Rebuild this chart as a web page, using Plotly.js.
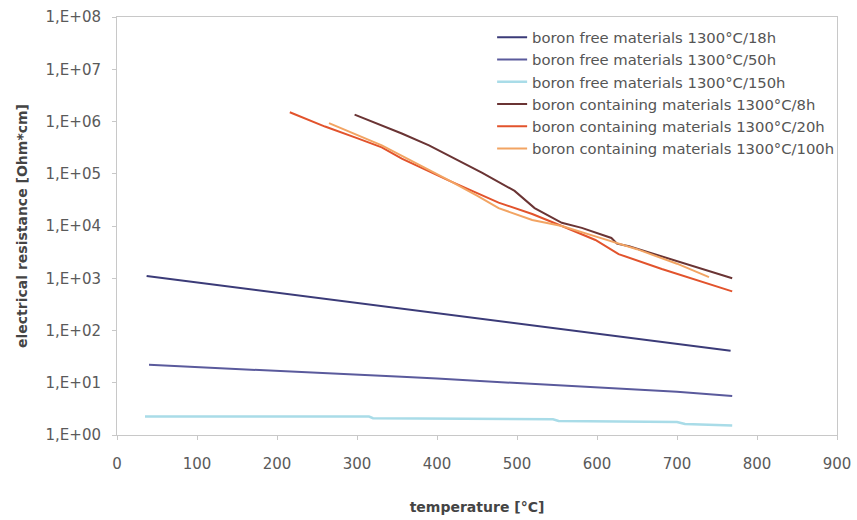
<!DOCTYPE html>
<html>
<head>
<meta charset="utf-8">
<script src="https://cdn.plot.ly/plotly-3.0.1.min.js"></script>
<style>html,body{margin:0;padding:0;background:#fff;}#chart{width:857px;height:520px;}</style>
</head>
<body>
<div id="chart"></div>
<script>
// Series names
const seriesNames = [
  "boron free materials 1300°C/18h",
  "boron free materials 1300°C/50h",
  "boron free materials 1300°C/150h",
  "boron containing materials 1300°C/8h",
  "boron containing materials 1300°C/20h",
  "boron containing materials 1300°C/100h"
];

// boron free 18h
const t18 = [37, 100, 200, 300, 400, 500, 600, 700, 767];
const r18 = [1100, 830, 525, 335, 213, 136, 86, 55, 41];

// boron free 50h
const t50 = [40, 100, 200, 300, 356, 400, 500, 600, 700, 769];
const r50 = [22, 20, 17, 14.5, 13, 12, 9.8, 8.2, 6.7, 5.6];

// boron free 150h
const t150 = [35, 315, 320, 545, 552, 700, 710, 769];
const r150 = [2.25, 2.25, 2.1, 2.0, 1.85, 1.78, 1.62, 1.52];

// boron containing 8h
const t8 = [297, 330, 356, 390, 415, 456, 497, 522, 556, 581, 618, 625, 640, 702, 769];
const r8 = [1.35e6, 8.5e5, 5.9e5, 3.5e5, 2.2e5, 1.05e5, 4.7e4, 2.2e4, 1.15e4, 9.2e3, 5.9e3, 4.6e3, 4.1e3, 2.1e3, 1.0e3];

// boron containing 20h
const t20 = [216, 260, 300, 331, 356, 415, 477, 519, 556, 598, 627, 681, 769];
const r20 = [1.5e6, 8.0e5, 4.8e5, 3.2e5, 1.95e5, 7.4e4, 2.8e4, 1.7e4, 1.0e4, 5.4e3, 2.9e3, 1.5e3, 5.6e2];

// boron containing 100h
const t100 = [265, 300, 331, 370, 415, 450, 477, 519, 556, 600, 650, 700, 740];
const r100 = [9.3e5, 5.5e5, 3.5e5, 1.7e5, 7.5e4, 3.8e4, 2.2e4, 1.3e4, 1.0e4, 6.2e3, 3.6e3, 1.9e3, 1.05e3];

// Axis ticks
const xTickVals = [0, 100, 200, 300, 400, 500, 600, 700, 800, 900];
const yTickVals = [1, 10, 100, 1e3, 1e4, 1e5, 1e6, 1e7, 1e8];
const yTickText = ["1,E+00", "1,E+01", "1,E+02", "1,E+03", "1,E+04", "1,E+05", "1,E+06", "1,E+07", "1,E+08"];

const colors = ["#3b3b78", "#5a5a9c", "#a9dce8", "#6a3434", "#e2532c", "#f2a463"];
const widths = [2, 2, 2.5, 2, 2, 2];

const xs = [t18, t50, t150, t8, t20, t100];
const ys = [r18, r50, r150, r8, r20, r100];

const traces = xs.map((x, i) => ({
  x: x, y: ys[i], type: "scatter", mode: "lines", name: seriesNames[i],
  line: {color: colors[i], width: widths[i]}
}));

const fontFam = "DejaVu Sans, Verdana, sans-serif";
const layout = {
  width: 857, height: 520,
  margin: {l: 117, r: 20, t: 17, b: 85},
  paper_bgcolor: "#fff", plot_bgcolor: "#fff",
  font: {family: fontFam, size: 13, color: "#555"},
  showlegend: true,
  legend: {x: 0.521, xanchor: "left", y: 0.99, yanchor: "top",
           bgcolor: "rgba(0,0,0,0)", font: {family: fontFam, size: 14.8, color: "#555"},
           tracegroupgap: 0},
  xaxis: {
    type: "linear", range: [0, 900], tickvals: xTickVals,
    showgrid: false, zeroline: false,
    showline: true, mirror: true, linecolor: "#c8c8c8", linewidth: 1,
    ticks: "outside", ticklen: 4, tickcolor: "#c8c8c8",
    tickfont: {family: fontFam, size: 15, color: "#5a5a5a"},
    ticklabelstandoff: 11,
    title: {text: "temperature [°C]", font: {family: fontFam, size: 14, color: "#444", weight: "bold"}, standoff: 30}
  },
  yaxis: {
    type: "log", range: [0, 8], tickvals: yTickVals, ticktext: yTickText,
    showgrid: false, zeroline: false,
    showline: true, mirror: true, linecolor: "#c8c8c8", linewidth: 1,
    ticks: "outside", ticklen: 4, tickcolor: "#c8c8c8",
    tickfont: {family: fontFam, size: 15, color: "#5a5a5a"},
    ticklabelstandoff: 8,
    title: {text: "electrical resistance [Ohm*cm]", font: {family: fontFam, size: 14, color: "#444", weight: "bold"}, standoff: 14}
  }
};

Plotly.newPlot("chart", traces, layout, {displayModeBar: false, staticPlot: true});
</script>
</body>
</html>
